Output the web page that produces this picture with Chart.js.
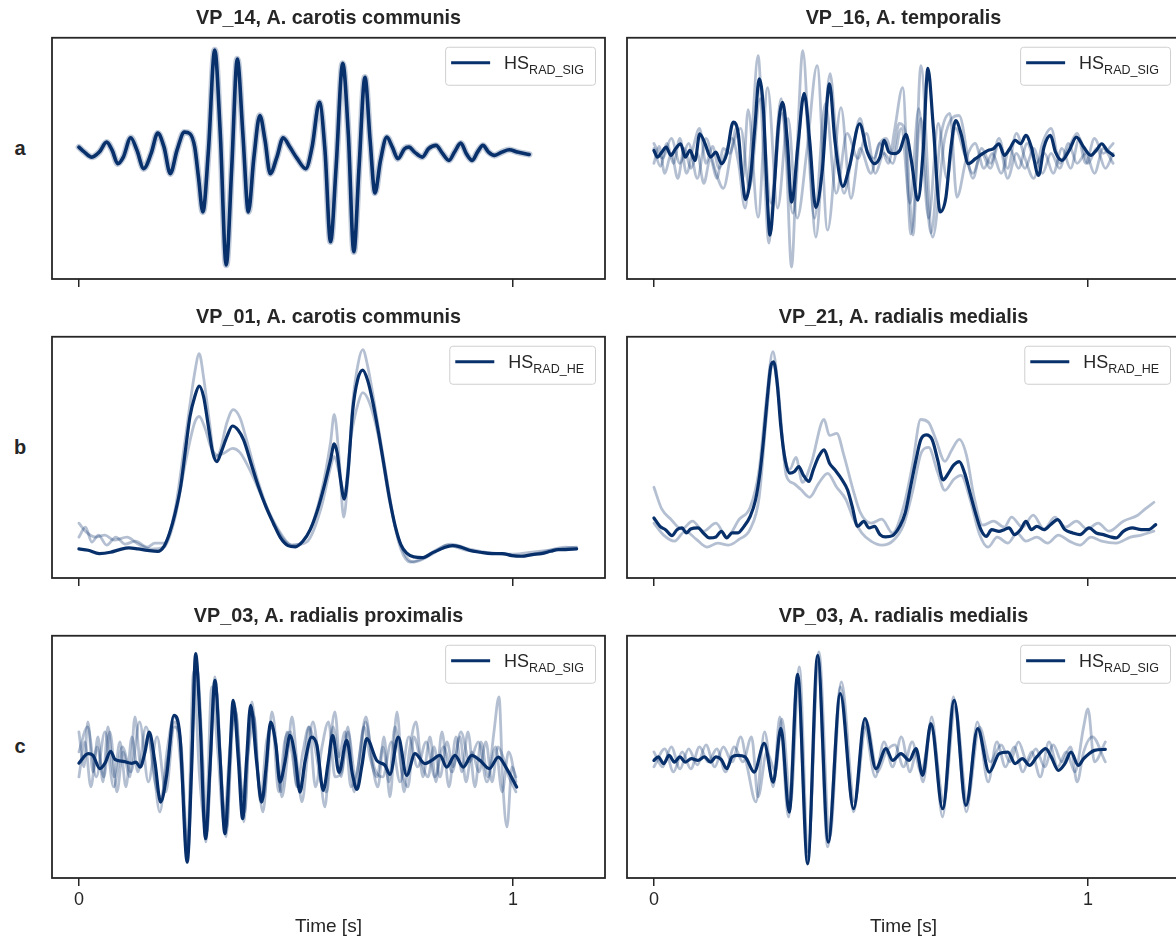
<!DOCTYPE html>
<html>
<head>
<meta charset="utf-8">
<title>Heart sound beats</title>
<script src="https://cdn.jsdelivr.net/npm/chart.js@4.4.0/dist/chart.umd.min.js"></script>
<style>
  body { margin: 0; background: #fff; width: 1176px; height: 939px; overflow: hidden; position: relative;
         font-family: "Liberation Sans", Arial, sans-serif; }
  .panel { position: absolute; }
  .row-label { position: absolute; left: 10px; width: 20px; text-align: center; font-weight: bold;
               font-size: 20px; line-height: 20px; color: #262626; }
</style>
</head>
<body>
<div class="row-label" style="top:138px">a</div>
<div class="row-label" style="top:437px">b</div>
<div class="row-label" style="top:736px">c</div>

<div class="panel" style="left:40px;top:0px"><canvas id="vp14" width="580" height="300"></canvas></div>
<div class="panel" style="left:615px;top:0px"><canvas id="vp16" width="580" height="300"></canvas></div>
<div class="panel" style="left:40px;top:299px"><canvas id="vp01" width="580" height="300"></canvas></div>
<div class="panel" style="left:615px;top:299px"><canvas id="vp21" width="580" height="300"></canvas></div>
<div class="panel" style="left:40px;top:598px"><canvas id="vp03p" width="580" height="344"></canvas></div>
<div class="panel" style="left:615px;top:598px"><canvas id="vp03m" width="580" height="344"></canvas></div>

<script>
// x ticks (seconds)
const timeTicks = [0, 1];

// VP_14, A. carotis communis  (HS_RAD_SIG, mean beat)
const vp14Time = [0, 0.0128, 0.0298, 0.0469, 0.0639, 0.0767, 0.0895, 0.1023, 0.1194, 0.1338,
  0.1492, 0.1662, 0.1816, 0.1961, 0.2106, 0.2259, 0.2430, 0.2558, 0.2668, 0.2754,
  0.2856, 0.2984, 0.3129, 0.3257, 0.3393, 0.3521, 0.3649, 0.3777, 0.3904, 0.4032,
  0.4169, 0.4288, 0.4407, 0.4561, 0.4706, 0.4859, 0.5030, 0.5226, 0.5371, 0.5541,
  0.5669, 0.5797, 0.5925, 0.6078, 0.6206, 0.6334, 0.6454, 0.6590, 0.6709, 0.6820,
  0.6948, 0.7093, 0.7221, 0.7349, 0.7502, 0.7604, 0.7732, 0.7911, 0.8056, 0.8227,
  0.8380, 0.8525, 0.8653, 0.8798, 0.8926, 0.9062, 0.9182, 0.9309, 0.9437, 0.9574,
  0.9744, 0.9915, 1.0102, 1.0375];
const vp14Mean = [0.113, 0.063, 0.013, 0.063, 0.163, 0.080, -0.053, 0.013, 0.207, 0.080,
  -0.103, 0.047, 0.253, 0.113, -0.153, 0.080, 0.263, 0.247, 0.113, -0.187,
  -0.537, 0.080, 1.087, 0.247, -1.070, -0.087, 0.997, 0.247, -0.537, 0.013,
  0.430, 0.180, -0.153, 0.013, 0.207, 0.113, -0.003, -0.103, 0.113, 0.563,
  0.080, -0.837, -0.087, 0.953, 0.247, -0.937, -0.087, 0.813, 0.180, -0.347,
  -0.020, 0.213, 0.113, -0.003, 0.097, 0.113, 0.063, 0.013, 0.097, 0.130,
  0.047, -0.020, 0.063, 0.153, 0.047, -0.020, 0.063, 0.130, 0.063, 0.030,
  0.063, 0.087, 0.063, 0.040];

// VP_16, A. temporalis  (HS_RAD_SIG)
const vp16Time = [0, 0.0083, 0.0183, 0.0282, 0.0390, 0.0498, 0.0615, 0.0723, 0.0831, 0.0947,
  0.1055, 0.1179, 0.1304, 0.1429, 0.1553, 0.1678, 0.1827, 0.1944, 0.2027, 0.2110,
  0.2218, 0.2326, 0.2425, 0.2525, 0.2608, 0.2674, 0.2774, 0.2865, 0.2965, 0.3073,
  0.3173, 0.3322, 0.3463, 0.3588, 0.3729, 0.3879, 0.4045, 0.4169, 0.4352, 0.4502,
  0.4738, 0.4917, 0.5083, 0.5208, 0.5307, 0.5415, 0.5540, 0.5664, 0.5806, 0.5930,
  0.6080, 0.6204, 0.6312, 0.6437, 0.6595, 0.6728, 0.6844, 0.6952, 0.7076, 0.7243,
  0.7409, 0.7575, 0.7699, 0.7824, 0.7948, 0.8073, 0.8198, 0.8322, 0.8447, 0.8571,
  0.8696, 0.8862, 0.8987, 0.9136, 0.9252, 0.9402, 0.9568, 0.9734, 0.9900, 1.0066,
  1.0191, 1.0316, 1.0440, 1.0581];
const vp16Mean = [0.080, 0.013, 0.063, 0.113, 0.030, 0.097, 0.147, 0.013, 0.080, -0.020,
  0.247, 0.147, 0.013, 0.063, -0.053, 0.047, 0.363, 0.247, -0.153, -0.413,
  -0.220, 0.313, 0.797, 0.480, -0.353, -0.770, -0.287, 0.313, 0.563, 0.180,
  -0.440, 0.147, 0.653, 0.180, -0.493, -0.120, 0.747, 0.180, -0.280, -0.087,
  0.347, 0.063, -0.053, 0.013, 0.180, 0.063, 0.047, 0.080, 0.240, -0.020,
  -0.420, 0.080, 0.903, 0.313, -0.537, -0.387, 0.113, 0.380, 0.247, -0.053,
  -0.003, 0.047, 0.080, 0.097, 0.147, 0.030, 0.097, 0.180, 0.147, 0.230,
  0.113, -0.170, 0.113, 0.230, 0.063, -0.020, 0.080, 0.213, 0.113, 0.030,
  0.080, 0.147, 0.080, 0.030];
const vp16Beat1Time = [0, 0.015, 0.03, 0.045, 0.06, 0.075, 0.09, 0.105, 0.12, 0.135,
  0.15, 0.165, 0.18, 0.195, 0.21, 0.225, 0.24, 0.252, 0.265, 0.278,
  0.293, 0.305, 0.317, 0.33, 0.343, 0.358, 0.373, 0.39, 0.406, 0.42,
  0.438, 0.455, 0.475, 0.49, 0.507, 0.52, 0.535, 0.55, 0.565, 0.58,
  0.597, 0.615, 0.642, 0.67, 0.703, 0.735, 0.755, 0.775, 0.795, 0.815,
  0.835, 0.855, 0.875, 0.895, 0.915, 0.935, 0.955, 0.975, 0.995, 1.015,
  1.035, 1.058];
const vp16Beat1 = [0.10, -0.08, 0.15, -0.05, 0.20, -0.15, 0.10, 0.30, -0.05, 0.12,
  -0.10, 0.05, 0.20, -0.05, -0.50, 0.20, 1.03, 0.10, -0.85, -0.10,
  0.60, 0.00, -1.09, 0.10, 1.08, 0.10, -0.79, 0.10, 0.85, 0.20,
  -0.35, 0.00, 0.40, 0.10, 0.00, 0.15, 0.20, 0.05, 0.35, 0.25,
  -0.77, 0.93, -0.79, 0.20, 0.43, -0.20, 0.10, -0.05, 0.20, -0.10,
  0.25, 0.00, -0.20, 0.15, 0.30, -0.05, 0.10, 0.25, -0.05, 0.20,
  0.05, 0.15];
const vp16Beat2Time = [0, 0.012, 0.025, 0.04, 0.055, 0.07, 0.085, 0.10, 0.115, 0.13,
  0.145, 0.16, 0.175, 0.19, 0.205, 0.217, 0.24, 0.262, 0.285, 0.309,
  0.33, 0.353, 0.376, 0.40, 0.431, 0.454, 0.475, 0.50, 0.52, 0.54,
  0.555, 0.573, 0.592, 0.615, 0.638, 0.66, 0.682, 0.698, 0.72, 0.74,
  0.76, 0.78, 0.80, 0.82, 0.84, 0.86, 0.88, 0.90, 0.92, 0.94,
  0.96, 0.98, 1.00, 1.02, 1.04, 1.058];
const vp16Beat2 = [-0.05, 0.12, -0.15, 0.05, -0.20, 0.10, -0.10, 0.05, -0.25, 0.00,
  -0.20, 0.10, 0.05, 0.30, -0.20, 0.49, -0.59, 0.71, -0.50, 0.40,
  -0.60, 0.10, 0.93, -0.72, 0.51, -0.40, 0.10, -0.15, 0.15, -0.05,
  0.30, 0.71, -0.76, 0.40, -0.75, 0.20, 0.45, -0.39, 0.00, 0.15,
  -0.10, 0.05, -0.15, 0.10, -0.10, 0.15, -0.05, 0.05, -0.15, 0.10,
  -0.10, 0.20, -0.05, 0.10, -0.10, 0.05];
const vp16Beat3Time = [0, 0.02, 0.04, 0.06, 0.08, 0.10, 0.12, 0.14, 0.16, 0.18,
  0.20, 0.22, 0.245, 0.27, 0.295, 0.32, 0.345, 0.37, 0.395, 0.42,
  0.445, 0.47, 0.49, 0.51, 0.53, 0.55, 0.57, 0.59, 0.61, 0.633,
  0.655, 0.675, 0.695, 0.715, 0.735, 0.755, 0.775, 0.795, 0.815, 0.835,
  0.855, 0.875, 0.895, 0.915, 0.935, 0.955, 0.975, 0.995, 1.015, 1.035,
  1.058];
const vp16Beat3 = [0.15, 0.00, 0.20, -0.05, 0.15, -0.20, 0.20, -0.10, -0.30, 0.10,
  0.30, -0.30, 0.60, -0.45, 0.45, -0.55, 0.65, -0.60, 0.55, -0.35,
  0.25, 0.00, 0.25, -0.15, 0.05, -0.05, 0.30, -0.45, 0.50, -0.60,
  0.35, -0.20, 0.30, 0.05, -0.15, 0.05, -0.10, 0.15, -0.20, 0.05,
  -0.10, 0.10, -0.15, 0.05, -0.10, 0.15, -0.05, 0.05, -0.15, 0.10,
  -0.05];

// VP_01, A. carotis communis  (HS_RAD_HE envelope)
const vp01Time = [0, 0.0213, 0.0469, 0.0725, 0.0938, 0.1151, 0.1364, 0.1577, 0.1816, 0.1961,
  0.2089, 0.2217, 0.2344, 0.2455, 0.2558, 0.2668, 0.2771, 0.2873, 0.2984, 0.3086,
  0.3180, 0.3282, 0.3410, 0.3538, 0.3666, 0.3794, 0.3964, 0.4135, 0.4305, 0.4476,
  0.4646, 0.4817, 0.4987, 0.5158, 0.5328, 0.5499, 0.5669, 0.5797, 0.5882, 0.5951,
  0.6027, 0.6113, 0.6198, 0.6309, 0.6419, 0.6539, 0.6650, 0.6777, 0.6905, 0.7033,
  0.7161, 0.7289, 0.7417, 0.7545, 0.7715, 0.7928, 0.8141, 0.8397, 0.8610, 0.8781,
  0.8994, 0.9250, 0.9506, 0.9761, 0.9974, 1.0188, 1.0443, 1.0656, 1.0870, 1.1040,
  1.1210, 1.1466];
const vp01Mean = [-0.918, -0.932, -0.965, -0.952, -0.925, -0.908, -0.918, -0.932, -0.942, -0.892,
  -0.758, -0.558, -0.292, 0.075, 0.408, 0.608, 0.715, 0.608, 0.308, 0.042,
  -0.042, 0.058, 0.208, 0.315, 0.275, 0.175, -0.058, -0.292, -0.492, -0.658,
  -0.808, -0.885, -0.898, -0.842, -0.725, -0.525, -0.258, -0.025, 0.135, 0.042,
  -0.225, -0.418, -0.158, 0.475, 0.775, 0.875, 0.775, 0.542, 0.242, -0.092,
  -0.425, -0.692, -0.875, -0.958, -0.998, -1.005, -0.958, -0.908, -0.885, -0.898,
  -0.932, -0.952, -0.965, -0.965, -0.985, -0.992, -0.975, -0.965, -0.942, -0.925,
  -0.925, -0.918];
const vp01Beat1Time = [0, 0.015, 0.0298, 0.045, 0.0639, 0.085, 0.1066, 0.13, 0.1577, 0.175,
  0.1961, 0.2217, 0.2455, 0.2668, 0.2771, 0.2873, 0.3009, 0.3129, 0.3240, 0.3410,
  0.3555, 0.3708, 0.3879, 0.4135, 0.4476, 0.4902, 0.5243, 0.5584, 0.5797, 0.5882,
  0.5993, 0.6100, 0.6198, 0.6309, 0.6436, 0.6539, 0.6650, 0.6777, 0.7033, 0.7289,
  0.7545, 0.7715, 0.8141, 0.8483, 0.8909, 0.9761, 1.0188, 1.0699, 1.1210, 1.1466];
const vp01Beat1 = [-0.80, -0.70, -0.85, -0.78, -0.88, -0.80, -0.87, -0.84, -0.90, -0.86,
  -0.86, -0.52, 0.20, 0.85, 1.04, 0.80, 0.35, 0.00, 0.05, 0.35,
  0.48, 0.40, 0.15, -0.25, -0.65, -0.88, -0.80, -0.35, 0.15, 0.43,
  0.00, -0.60, -0.20, 0.55, 0.95, 1.08, 0.92, 0.62, -0.05, -0.70,
  -1.00, -1.05, -0.97, -0.88, -0.93, -0.97, -0.99, -0.95, -0.90, -0.91];
const vp01Beat2Time = [0, 0.0171, 0.0384, 0.0597, 0.0810, 0.1108, 0.1364, 0.1662, 0.1961, 0.2217,
  0.2455, 0.2668, 0.2771, 0.2899, 0.3043, 0.3197, 0.3367, 0.3538, 0.3708, 0.3964,
  0.4220, 0.4561, 0.4902, 0.5243, 0.5584, 0.5797, 0.5882, 0.5993, 0.6113, 0.6266,
  0.6436, 0.6539, 0.6692, 0.6905, 0.7161, 0.7417, 0.7630, 0.7886, 0.8227, 0.8568,
  0.8994, 0.9506, 1.0017, 1.0443, 1.1040, 1.1466];
const vp01Beat2 = [-0.66, -0.75, -0.80, -0.78, -0.83, -0.80, -0.87, -0.92, -0.90, -0.60,
  -0.05, 0.35, 0.41, 0.30, 0.10, 0.02, 0.05, 0.09, 0.05, -0.15,
  -0.40, -0.70, -0.88, -0.85, -0.50, -0.10, 0.01, -0.15, -0.35, 0.20,
  0.55, 0.65, 0.55, 0.20, -0.45, -0.92, -1.05, -1.02, -0.93, -0.87,
  -0.92, -0.96, -0.97, -0.95, -0.92, -0.90];

// VP_21, A. radialis medialis  (HS_RAD_HE)
const vp21Time = [0, 0.0141, 0.0266, 0.0415, 0.0532, 0.0648, 0.0748, 0.0847, 0.1013, 0.1138,
  0.1279, 0.1429, 0.1553, 0.1678, 0.1802, 0.1927, 0.2076, 0.2218, 0.2342, 0.2442,
  0.2525, 0.2608, 0.2691, 0.2757, 0.2841, 0.2924, 0.3023, 0.3131, 0.3239, 0.3339,
  0.3439, 0.3571, 0.3671, 0.3796, 0.3920, 0.4045, 0.4169, 0.4336, 0.4460, 0.4568,
  0.4693, 0.4834, 0.4958, 0.5083, 0.5208, 0.5332, 0.5498, 0.5664, 0.5789, 0.5914,
  0.6038, 0.6146, 0.6271, 0.6412, 0.6537, 0.6661, 0.6786, 0.6910, 0.7035, 0.7159,
  0.7284, 0.7409, 0.7533, 0.7658, 0.7782, 0.7949, 0.8073, 0.8181, 0.8306, 0.8447,
  0.8571, 0.8696, 0.8821, 0.8987, 0.9136, 0.9302, 0.9468, 0.9651, 0.9817, 1.0025,
  1.0191, 1.0357, 1.0523, 1.0648, 1.0814, 1.1021, 1.1229, 1.1395, 1.1561];
const vp21Mean = [-0.608, -0.692, -0.725, -0.785, -0.725, -0.708, -0.758, -0.718, -0.708, -0.758,
  -0.808, -0.798, -0.742, -0.808, -0.758, -0.758, -0.692, -0.592, -0.425, -0.158,
  0.175, 0.575, 0.908, 0.958, 0.742, 0.308, -0.025, -0.158, -0.142, -0.092,
  -0.175, -0.242, -0.125, 0.008, 0.075, -0.058, -0.125, -0.225, -0.325, -0.492,
  -0.692, -0.642, -0.708, -0.692, -0.775, -0.798, -0.785, -0.692, -0.558, -0.292,
  -0.025, 0.175, 0.225, 0.175, -0.025, -0.225, -0.158, -0.075, -0.042, -0.158,
  -0.358, -0.558, -0.725, -0.792, -0.725, -0.742, -0.725, -0.708, -0.775, -0.725,
  -0.642, -0.725, -0.692, -0.725, -0.675, -0.625, -0.725, -0.758, -0.775, -0.708,
  -0.758, -0.775, -0.798, -0.808, -0.742, -0.708, -0.725, -0.725, -0.675];
const vp21Beat1Time = [0, 0.0183, 0.0390, 0.0640, 0.0889, 0.1138, 0.1429, 0.1678, 0.1968, 0.2218,
  0.2425, 0.2591, 0.2741, 0.2857, 0.2990, 0.3131, 0.3272, 0.3422, 0.3630, 0.3920,
  0.4045, 0.4211, 0.4377, 0.4585, 0.4751, 0.5000, 0.5249, 0.5498, 0.5748, 0.5955,
  0.6146, 0.6329, 0.6495, 0.6703, 0.6869, 0.7035, 0.7201, 0.7367, 0.7575, 0.7824,
  0.8073, 0.8239, 0.8488, 0.8738, 0.8987, 0.9236, 0.9485, 0.9734, 0.9983, 1.0233,
  1.0482, 1.0814, 1.1146, 1.1312, 1.1520];
const vp21Beat1 = [-0.30, -0.52, -0.62, -0.72, -0.64, -0.74, -0.66, -0.80, -0.62, -0.50,
  -0.12, 0.58, 1.06, 0.72, 0.08, -0.12, 0.00, -0.25, -0.05, 0.38,
  0.22, 0.24, 0.02, -0.32, -0.55, -0.66, -0.62, -0.76, -0.50, -0.08,
  0.38, 0.35, 0.18, -0.04, 0.08, 0.18, 0.02, -0.38, -0.68, -0.64,
  -0.70, -0.60, -0.70, -0.58, -0.72, -0.60, -0.70, -0.64, -0.72, -0.66,
  -0.74, -0.64, -0.58, -0.52, -0.45];
const vp21Beat2Time = [0, 0.0224, 0.0473, 0.0723, 0.0972, 0.1221, 0.1470, 0.1719, 0.1968, 0.2218,
  0.2425, 0.2591, 0.2741, 0.2882, 0.3048, 0.3214, 0.3380, 0.3588, 0.3796, 0.4003,
  0.4211, 0.4419, 0.4601, 0.4792, 0.5000, 0.5249, 0.5498, 0.5748, 0.5955, 0.6163,
  0.6329, 0.6537, 0.6703, 0.6910, 0.7076, 0.7284, 0.7492, 0.7699, 0.7907, 0.8156,
  0.8364, 0.8571, 0.8821, 0.9070, 0.9319, 0.9568, 0.9817, 1.0066, 1.0316, 1.0648,
  1.0980, 1.1229, 1.1520];
const vp21Beat2 = [-0.66, -0.78, -0.84, -0.74, -0.82, -0.90, -0.86, -0.88, -0.82, -0.72,
  -0.40, 0.40, 0.95, 0.55, -0.18, -0.26, -0.32, -0.40, -0.26, -0.16,
  -0.30, -0.42, -0.62, -0.76, -0.84, -0.88, -0.84, -0.68, -0.35, 0.05,
  0.10, -0.15, -0.33, -0.22, -0.18, -0.42, -0.76, -0.90, -0.80, -0.86,
  -0.76, -0.84, -0.80, -0.86, -0.78, -0.84, -0.88, -0.80, -0.84, -0.86,
  -0.80, -0.78, -0.74];

// VP_03, A. radialis proximalis  (HS_RAD_SIG)
const vp03pTime = [0, 0.0214, 0.0323, 0.0484, 0.0599, 0.0730, 0.0829, 0.1021, 0.1214, 0.1313,
  0.1406, 0.1521, 0.1620, 0.1751, 0.1882, 0.2021, 0.2189, 0.2327, 0.2495, 0.2597,
  0.2689, 0.2788, 0.2919, 0.3018, 0.3134, 0.3249, 0.3364, 0.3463, 0.3555, 0.3671,
  0.3772, 0.3864, 0.3956, 0.4094, 0.4210, 0.4309, 0.4417, 0.4539, 0.4631, 0.4747,
  0.4862, 0.4977, 0.5092, 0.5207, 0.5362, 0.5484, 0.5629, 0.5744, 0.5846, 0.5991,
  0.6168, 0.6306, 0.6406, 0.6521, 0.6629, 0.6860, 0.7051, 0.7166, 0.7357, 0.7551,
  0.7742, 0.7972, 0.8127, 0.8318, 0.8472, 0.8664, 0.8855, 0.9048, 0.9240, 0.9454,
  0.9661, 0.9855, 1.0085];
const vp03pMean = [-0.062, 0.032, 0.015, -0.118, -0.065, 0.055, -0.025, -0.045, -0.065, -0.052,
  -0.102, 0.045, 0.248, -0.052, -0.452, -0.185, 0.415, 0.215, -1.052, -0.118,
  1.032, 0.382, -0.818, -0.118, 0.765, 0.015, -0.768, -0.118, 0.565, -0.018,
  -0.618, -0.018, 0.515, -0.052, -0.452, -0.118, 0.348, 0.115, -0.252, -0.052,
  0.215, 0.015, -0.352, -0.052, 0.198, 0.115, -0.335, -0.052, 0.215, -0.155,
  0.165, -0.185, -0.325, -0.085, 0.182, -0.035, -0.085, -0.175, 0.198, -0.185,
  0.032, -0.068, -0.035, 0.015, -0.102, 0.015, -0.102, 0.015, -0.035, -0.118,
  -0.002, -0.118, -0.302];
const vp03pBeat1Time = [0, 0.0115, 0.0207, 0.0323, 0.0438, 0.0553, 0.0668, 0.0806, 0.0945, 0.1083,
  0.1221, 0.1359, 0.1544, 0.1682, 0.1866, 0.2028, 0.2189, 0.2350, 0.2488, 0.2604,
  0.2696, 0.2811, 0.2926, 0.3041, 0.3134, 0.3272, 0.3387, 0.3502, 0.3571, 0.3710,
  0.3802, 0.3894, 0.3986, 0.4124, 0.4240, 0.4355, 0.4447, 0.4585, 0.4677, 0.4816,
  0.4908, 0.5023, 0.5138, 0.5276, 0.5392, 0.5530, 0.5668, 0.5783, 0.5899, 0.6037,
  0.6198, 0.6336, 0.6475, 0.6613, 0.6751, 0.6889, 0.7028, 0.7166, 0.7327, 0.7488,
  0.7627, 0.7765, 0.7926, 0.8088, 0.8226, 0.8364, 0.8525, 0.8687, 0.8825, 0.8963,
  0.9124, 0.9263, 0.9424, 0.9562, 0.9677, 0.9770, 0.9862, 0.9977, 1.0069];
const vp03pBeat1 = [0.25, -0.10, 0.35, -0.15, 0.20, -0.25, 0.30, -0.20, 0.15, -0.30,
  0.20, -0.15, 0.30, 0.05, -0.55, 0.05, 0.40, 0.10, -1.00, 0.10,
  1.00, 0.25, -0.85, 0.00, 0.80, -0.10, -0.80, 0.00, 0.55, -0.10,
  -0.65, 0.05, 0.55, -0.15, -0.55, 0.00, 0.45, -0.05, -0.40, 0.05,
  0.40, -0.05, -0.45, 0.05, 0.35, -0.05, -0.50, 0.10, 0.45, -0.20,
  0.30, -0.35, 0.05, 0.40, -0.05, -0.30, 0.20, -0.40, 0.45, -0.35,
  0.10, 0.35, -0.20, 0.20, -0.25, 0.25, -0.30, 0.20, -0.15, 0.25,
  -0.30, 0.15, -0.20, 0.25, 0.60, -0.30, -0.70, -0.10, -0.20];
const vp03pBeat2Time = [0, 0.0138, 0.0276, 0.0415, 0.0576, 0.0714, 0.0876, 0.1014, 0.1175, 0.1290,
  0.1429, 0.1590, 0.1751, 0.1889, 0.2051, 0.2212, 0.2373, 0.2512, 0.2627, 0.2719,
  0.2857, 0.2949, 0.3065, 0.3157, 0.3295, 0.3410, 0.3502, 0.3594, 0.3733, 0.3825,
  0.3917, 0.4009, 0.4147, 0.4263, 0.4401, 0.4516, 0.4654, 0.4793, 0.4885, 0.5046,
  0.5161, 0.5300, 0.5438, 0.5576, 0.5714, 0.5853, 0.5991, 0.6129, 0.6267, 0.6429,
  0.6567, 0.6705, 0.6866, 0.7005, 0.7143, 0.7281, 0.7442, 0.7581, 0.7719, 0.7857,
  0.8041, 0.8180, 0.8318, 0.8479, 0.8618, 0.8779, 0.8917, 0.9055, 0.9217, 0.9378,
  0.9516, 0.9654, 0.9770, 0.9908, 1.0069];
const vp03pBeat2 = [-0.20, 0.15, -0.30, 0.10, -0.20, 0.25, -0.35, 0.05, -0.20, 0.40,
  -0.10, 0.20, -0.25, -0.40, 0.00, 0.35, -0.20, -0.95, 0.30, 0.90,
  -0.05, -0.75, 0.30, 0.70, -0.30, -0.70, 0.20, 0.50, -0.30, -0.55,
  0.20, 0.45, -0.30, -0.40, 0.30, 0.20, -0.35, 0.25, 0.10, -0.30,
  -0.20, 0.30, 0.10, -0.25, -0.35, 0.30, 0.00, 0.25, -0.30, -0.10,
  0.30, 0.00, -0.20, 0.10, -0.25, 0.30, -0.15, -0.30, 0.20, 0.00,
  -0.20, 0.10, -0.20, 0.15, -0.10, 0.20, -0.25, 0.05, -0.15, 0.15,
  -0.25, 0.10, 0.00, -0.20, -0.35];
const vp03pBeat3Time = [0, 0.02, 0.04, 0.06, 0.08, 0.10, 0.12, 0.14, 0.16, 0.18,
  0.20, 0.22, 0.236, 0.25, 0.264, 0.278, 0.292, 0.306, 0.32, 0.334,
  0.348, 0.362, 0.376, 0.39, 0.404, 0.418, 0.432, 0.446, 0.46, 0.474,
  0.488, 0.502, 0.516, 0.53, 0.545, 0.56, 0.575, 0.59, 0.605, 0.62,
  0.64, 0.66, 0.68, 0.70, 0.72, 0.74, 0.76, 0.78, 0.80, 0.82,
  0.84, 0.86, 0.88, 0.90, 0.92, 0.94, 0.96, 0.975, 0.99, 1.007];
const vp03pBeat3 = [0.05, 0.30, -0.20, 0.25, -0.30, 0.10, -0.15, 0.35, -0.25, 0.20,
  -0.35, 0.30, 0.10, -0.90, 0.85, -0.20, -0.70, 0.70, 0.05, -0.65,
  0.10, 0.45, -0.40, 0.05, 0.40, -0.45, 0.15, 0.30, -0.35, 0.15,
  0.25, -0.30, 0.05, 0.30, -0.30, 0.10, 0.35, -0.20, -0.15, 0.25,
  -0.30, 0.35, -0.10, -0.20, 0.15, -0.25, 0.20, -0.10, 0.15, -0.20,
  0.10, -0.15, 0.25, -0.05, 0.15, -0.25, 0.10, -0.35, 0.05, -0.25];

// VP_03, A. radialis medialis  (HS_RAD_SIG)
const vp03mTime = [0, 0.0100, 0.0224, 0.0349, 0.0473, 0.0598, 0.0723, 0.0864, 0.1013, 0.1163,
  0.1304, 0.1429, 0.1553, 0.1678, 0.1802, 0.1927, 0.2100, 0.2311, 0.2541, 0.2749,
  0.2926, 0.3118, 0.3311, 0.3541, 0.3772, 0.4016, 0.4293, 0.4601, 0.4862, 0.5115,
  0.5346, 0.5500, 0.5691, 0.5882, 0.6037, 0.6191, 0.6382, 0.6652, 0.6919, 0.7189,
  0.7459, 0.7726, 0.7956, 0.8156, 0.8322, 0.8488, 0.8654, 0.8821, 0.9028, 0.9153,
  0.9319, 0.9468, 0.9610, 0.9776, 0.9900, 1.0025, 1.0150, 1.0399];
const vp03mMean = [-0.035, 0.000, -0.068, 0.015, -0.052, 0.000, -0.052, -0.018, -0.035, 0.000,
  -0.052, 0.000, -0.028, -0.118, 0.000, 0.015, 0.000, -0.152, 0.135, -0.252,
  0.285, -0.552, 0.825, -1.068, 1.015, -0.852, 0.632, -0.518, 0.382, -0.118,
  0.082, -0.035, 0.032, -0.035, 0.082, -0.185, 0.332, -0.518, 0.565, -0.485,
  0.282, -0.152, 0.032, 0.048, -0.068, -0.018, -0.085, 0.000, 0.082, 0.000,
  -0.135, -0.068, 0.048, -0.085, -0.018, 0.032, 0.065, 0.075];
const vp03mBeat1Time = [0, 0.02, 0.04, 0.06, 0.08, 0.10, 0.12, 0.14, 0.16, 0.18,
  0.20, 0.215, 0.235, 0.255, 0.275, 0.29, 0.31, 0.33, 0.355, 0.378,
  0.40, 0.43, 0.46, 0.485, 0.51, 0.53, 0.55, 0.57, 0.59, 0.605,
  0.62, 0.64, 0.665, 0.69, 0.72, 0.745, 0.77, 0.79, 0.81, 0.83,
  0.85, 0.87, 0.89, 0.91, 0.93, 0.95, 0.97, 0.99, 1.00, 1.015,
  1.04];
const vp03mBeat1 = [0.05, -0.10, 0.10, -0.12, 0.08, -0.08, 0.12, -0.10, 0.10, -0.05,
  0.20, -0.10, -0.45, 0.25, -0.30, 0.40, -0.60, 0.78, -1.00, 0.95,
  -0.90, 0.70, -0.55, 0.30, -0.20, 0.15, -0.10, 0.20, -0.15, 0.05,
  -0.25, 0.40, -0.60, 0.60, -0.55, 0.35, -0.25, 0.15, -0.10, 0.10,
  -0.15, 0.05, -0.20, 0.15, -0.10, 0.05, -0.15, 0.30, 0.48, -0.05,
  0.15];
const vp03mBeat2Time = [0, 0.025, 0.045, 0.065, 0.085, 0.105, 0.125, 0.145, 0.165, 0.185,
  0.205, 0.225, 0.24, 0.26, 0.28, 0.295, 0.315, 0.335, 0.355, 0.38,
  0.405, 0.432, 0.462, 0.49, 0.515, 0.535, 0.555, 0.575, 0.595, 0.615,
  0.64, 0.668, 0.694, 0.722, 0.75, 0.775, 0.80, 0.82, 0.84, 0.86,
  0.88, 0.90, 0.92, 0.94, 0.96, 0.975, 0.99, 1.01, 1.04];
const vp03mBeat2 = [-0.10, 0.08, -0.15, 0.05, -0.12, 0.10, -0.05, 0.08, -0.15, 0.10,
  -0.05, 0.20, -0.40, 0.05, -0.15, 0.38, -0.45, 0.90, -0.95, 1.05,
  -0.80, 0.75, -0.45, 0.35, -0.15, 0.05, 0.12, -0.10, 0.15, -0.15,
  0.28, -0.45, 0.50, -0.45, 0.30, -0.05, 0.12, -0.05, 0.15, -0.05,
  0.08, -0.10, 0.12, -0.05, 0.10, -0.25, 0.05, 0.20, -0.05];

const navy = '#08306b';
const navyFaint = 'rgba(8, 48, 107, 0.3)';
const textColor = '#262626';

Chart.defaults.font.family = '"Liberation Sans", Arial, sans-serif';
Chart.defaults.color = textColor;

function toPoints(times, values) {
  return times.map((t, i) => ({ x: t, y: values[i] }));
}

function beatLine(times, values) {
  return { data: toPoints(times, values), borderColor: navyFaint, borderWidth: 2.8 };
}

function meanLine(times, values, width) {
  return { label: 'HS', data: toPoints(times, values), borderColor: navy, borderWidth: width || 3.2 };
}

// frame around the plot area
const framePlugin = {
  id: 'frame',
  afterDraw(chart) {
    const { ctx, chartArea: a } = chart;
    ctx.save();
    ctx.strokeStyle = textColor;
    ctx.lineWidth = 1.8;
    ctx.strokeRect(a.left, a.top, a.right - a.left, a.bottom - a.top);
    ctx.restore();
  }
};

// legend box with the subscripted label, top right of the plot area
const hsLegend = {
  id: 'hsLegend',
  afterDraw(chart, args, opts) {
    const { ctx, chartArea: a } = chart;
    ctx.save();
    ctx.font = '18px "Liberation Sans", Arial, sans-serif';
    const mainW = ctx.measureText('HS').width;
    ctx.font = '12.5px "Liberation Sans", Arial, sans-serif';
    const subW = ctx.measureText(opts.sub).width;
    const w = 59 + mainW + subW + 11;
    const h = 38;
    const x = a.right - 10 - w;
    const y = a.top + 9;

    ctx.beginPath();
    ctx.roundRect(x + 0.5, y + 0.5, w, h, 3);
    ctx.fillStyle = 'rgba(255,255,255,0.85)';
    ctx.fill();
    ctx.strokeStyle = '#cfcfcf';
    ctx.lineWidth = 1;
    ctx.stroke();

    ctx.beginPath();
    ctx.moveTo(x + 6, y + 16);
    ctx.lineTo(x + 45, y + 16);
    ctx.strokeStyle = navy;
    ctx.lineWidth = 3;
    ctx.stroke();

    ctx.fillStyle = textColor;
    ctx.textBaseline = 'alphabetic';
    ctx.font = '18px "Liberation Sans", Arial, sans-serif';
    ctx.fillText('HS', x + 59, y + 22);
    ctx.font = '12.5px "Liberation Sans", Arial, sans-serif';
    ctx.fillText(opts.sub, x + 59 + mainW, y + 27);
    ctx.restore();
  }
};

function makePanel(id, title, sub, datasets, bottomRow) {
  new Chart(document.getElementById(id), {
    type: 'line',
    data: { datasets: datasets },
    options: {
      responsive: false,
      animation: false,
      events: [],
      layout: { padding: { left: 12, right: 15, top: 0, bottom: bottomRow ? 1.6 : 13 } },
      elements: {
        point: { radius: 0 },
        line: { cubicInterpolationMode: 'monotone', borderJoinStyle: 'round', borderCapStyle: 'round', fill: false }
      },
      scales: {
        x: {
          type: 'linear',
          min: -0.062,
          max: 1.212,
          afterBuildTicks: (scale) => { scale.ticks = timeTicks.map(v => ({ value: v })); },
          grid: { drawOnChartArea: false, drawTicks: true, tickLength: 8, color: textColor, lineWidth: 1.5 },
          border: { display: false },
          ticks: { display: bottomRow, padding: 3, font: { size: 18 }, color: textColor, callback: (v) => String(v) },
          title: { display: bottomRow, text: 'Time [s]', font: { size: 19 }, color: textColor, padding: { top: 2, bottom: 2 } }
        },
        y: { display: false, min: -1.21, max: 1.21 }
      },
      plugins: {
        legend: { display: false },
        tooltip: { enabled: false },
        title: {
          display: true,
          text: title,
          color: textColor,
          font: { size: 19.8, weight: 'bold' },
          padding: { top: 7, bottom: 7 }
        },
        hsLegend: { sub: sub }
      }
    },
    plugins: [framePlugin, hsLegend]
  });
}

makePanel('vp14', 'VP_14, A. carotis communis', 'RAD_SIG', [
  { data: toPoints(vp14Time, vp14Mean), borderColor: 'rgba(8, 48, 107, 0.25)', borderWidth: 6.5 },
  meanLine(vp14Time, vp14Mean, 3.6)
], false);

makePanel('vp16', 'VP_16, A. temporalis', 'RAD_SIG', [
  beatLine(vp16Beat1Time, vp16Beat1),
  beatLine(vp16Beat2Time, vp16Beat2),
  beatLine(vp16Beat3Time, vp16Beat3),
  meanLine(vp16Time, vp16Mean)
], false);

makePanel('vp01', 'VP_01, A. carotis communis', 'RAD_HE', [
  beatLine(vp01Beat1Time, vp01Beat1),
  beatLine(vp01Beat2Time, vp01Beat2),
  meanLine(vp01Time, vp01Mean)
], false);

makePanel('vp21', 'VP_21, A. radialis medialis', 'RAD_HE', [
  beatLine(vp21Beat1Time, vp21Beat1),
  beatLine(vp21Beat2Time, vp21Beat2),
  meanLine(vp21Time, vp21Mean)
], false);

makePanel('vp03p', 'VP_03, A. radialis proximalis', 'RAD_SIG', [
  beatLine(vp03pBeat1Time, vp03pBeat1),
  beatLine(vp03pBeat2Time, vp03pBeat2),
  beatLine(vp03pBeat3Time, vp03pBeat3),
  meanLine(vp03pTime, vp03pMean)
], true);

makePanel('vp03m', 'VP_03, A. radialis medialis', 'RAD_SIG', [
  beatLine(vp03mBeat1Time, vp03mBeat1),
  beatLine(vp03mBeat2Time, vp03mBeat2),
  meanLine(vp03mTime, vp03mMean)
], true);
</script>
</body>
</html>
